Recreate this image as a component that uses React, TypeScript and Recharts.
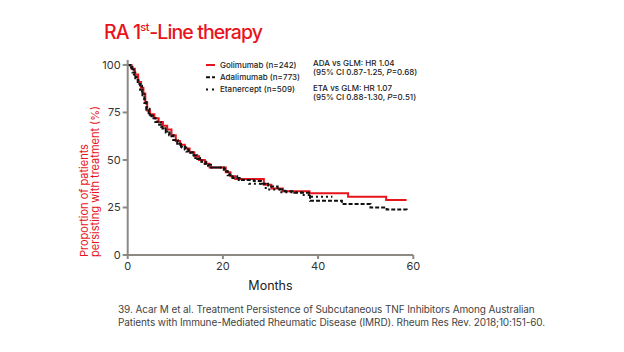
import React from "react"
import { LineChart, Line, XAxis, YAxis, Label } from "recharts"

const golMonths = [0, 0.8, 1.5, 2.2, 2.8, 3.3, 3.7, 4.1, 4.7, 5.6, 6.5, 7.4, 8.3, 9.2, 10.1, 11, 12, 13, 14, 15, 16.2, 17.2, 20.6, 21.6, 22.6, 28.6, 30.2, 32.6, 38.2, 46.3, 54.3, 58.6]
const golPct = [100, 98, 95, 91, 88, 85, 80, 76, 74, 72, 70, 68, 66, 63, 60, 58, 56, 54, 52, 50, 48, 46, 43.5, 41.5, 40, 37, 35, 33.5, 32.5, 30.7, 29, 29]

const adaMonths = [0, 0.5, 1, 1.6, 2.1, 2.6, 3.1, 3.5, 3.9, 4.4, 5, 5.8, 6.6, 7.3, 8, 8.8, 9.6, 10.4, 11.2, 12, 12.8, 13.7, 14.6, 15.5, 16.5, 17.5, 20.2, 21, 22, 24, 26.5, 28, 29.5, 31.5, 33, 35, 38.3, 45, 51, 54.4, 58.6]
const adaPct = [100, 99, 96, 93, 90, 87, 84, 80, 76, 73.5, 72, 70, 68.5, 66.5, 64.5, 62.5, 60.5, 58.5, 57, 55.5, 54, 52.5, 50.5, 49, 47.5, 46, 44, 42, 40.5, 39.5, 39, 37.5, 36, 34.5, 33.5, 32.8, 28.6, 26.8, 25, 24, 23.5]

const etaMonths = [0, 0.7, 1.3, 1.9, 2.5, 3, 3.5, 4, 4.6, 5.3, 6.2, 7, 7.9, 8.7, 9.6, 10.5, 11.4, 12.3, 13.2, 14.2, 15.2, 16.2, 17.3, 20.4, 21.4, 23, 25.5, 29, 32, 36.5, 38.5, 43]
const etaPct = [100, 98, 95, 92, 89, 86, 82, 77, 74, 72, 70, 67.5, 65, 63, 60.5, 58.5, 56.5, 54.5, 52.5, 51, 49, 47, 46, 44, 41.5, 39.5, 37.5, 34.5, 33, 31.6, 30.7, 30.7]

const xTicks = [0, 20, 40, 60]
const yTicks = [0, 25, 50, 75, 100]

const legendItems = [
  { label: "Golimumab (n=242)", color: "#e8141c", dash: undefined },
  { label: "Adalimumab (n=773)", color: "#111", dash: "4 2" },
  { label: "Etanercept (n=509)", color: "#111", dash: "2 4" },
]

const toRows = (months: number[], pct: number[]) => months.map((m, i) => ({ month: m, pct: pct[i] }))

const font = "Inter, 'Liberation Sans', sans-serif"
const red = "#e8141c"
const axisGrey = "#8c8884"

export default function App() {
  const gol = toRows(golMonths, golPct)
  const ada = toRows(adaMonths, adaPct)
  const eta = toRows(etaMonths, etaPct)

  return (
    <div style={{ position: "fixed", left: 0, top: 0, width: 624, height: 352, background: "#fff", fontFamily: font }}>
      <div style={{ position: "absolute", left: 104, top: 20, fontSize: 19.5, fontWeight: 500, color: red, whiteSpace: "nowrap", letterSpacing: -0.9 }}>
        RA 1<sup style={{ fontSize: 11, verticalAlign: 0, position: "relative", top: -8, letterSpacing: -0.3 }}>st</sup>-Line therapy
      </div>

      <LineChart width={624} height={352} margin={{ top: 60, right: 210.7, bottom: 67, left: 97.7 }} style={{ position: "absolute", left: 0, top: 0 }}>
        <XAxis
          type="number"
          dataKey="month"
          domain={[0, 60]}
          ticks={xTicks}
          allowDuplicatedCategory={false}
          stroke={axisGrey}
          strokeWidth={2}
          tickSize={4}
          tickMargin={3}
          tick={{ fill: "#333", fontSize: 11, fontFamily: font }}
          height={30}
        >
          <Label value="Months" position="insideBottom" offset={-5} style={{ fill: "#222", fontSize: 12.5, fontFamily: font }} />
        </XAxis>
        <YAxis
          type="number"
          domain={[0, 102.6]}
          ticks={yTicks}
          stroke={axisGrey}
          strokeWidth={2}
          tickSize={5}
          tickMargin={2}
          tick={{ fill: "#333", fontSize: 11, fontFamily: font }}
          width={30}
        />
        <Line data={gol} dataKey="pct" type="stepAfter" stroke={red} strokeWidth={2} dot={false} isAnimationActive={false} />
        <Line data={eta} dataKey="pct" type="stepAfter" stroke="#111" strokeWidth={2} strokeDasharray="2 3" dot={false} isAnimationActive={false} />
        <Line data={ada} dataKey="pct" type="stepAfter" stroke="#111" strokeWidth={2} strokeDasharray="4 2" dot={false} isAnimationActive={false} />
      </LineChart>

      <svg width={624} height={352} style={{ position: "absolute", left: 0, top: 0, pointerEvents: "none" }}>
        <text transform="translate(88, 257) rotate(-90)" fill={red} fontSize={11} fontFamily={font}>
          Proportion of patients
        </text>
        <text transform="translate(99, 257) rotate(-90)" fill={red} fontSize={11} fontFamily={font}>
          persisting with treatment (%)
        </text>
        {legendItems.map((it, i) => (
          <g key={it.label}>
            <line x1={206} x2={215} y1={65 + i * 12.2} y2={65 + i * 12.2} stroke={it.color} strokeWidth={2} strokeDasharray={it.dash} />
            <text x={220} y={68 + i * 12.2} fontSize={8} fontWeight={500} fill="#222" fontFamily={font}>
              {it.label}
            </text>
          </g>
        ))}
        <g fontSize={8} fontWeight={500} fill="#222" fontFamily={font}>
          <text x={313} y={66}>ADA vs GLM: HR 1.04</text>
          <text x={313} y={75}>
            (95% CI 0.87-1.25, <tspan fontStyle="italic">P</tspan>=0.68)
          </text>
          <text x={313} y={91}>ETA vs GLM: HR 1.07</text>
          <text x={313} y={100}>
            (95% CI 0.88-1.30, <tspan fontStyle="italic">P</tspan>=0.51)
          </text>
        </g>
        <g fontSize={10} fill="#444" fontFamily={font} letterSpacing={-0.1}>
          <text x={118} y={313}>39. Acar M et al. Treatment Persistence of Subcutaneous TNF Inhibitors Among Australian</text>
          <text x={118} y={326}>Patients with Immune-Mediated Rheumatic Disease (IMRD). Rheum Res Rev. 2018;10:151-60.</text>
        </g>
      </svg>
    </div>
  )
}
